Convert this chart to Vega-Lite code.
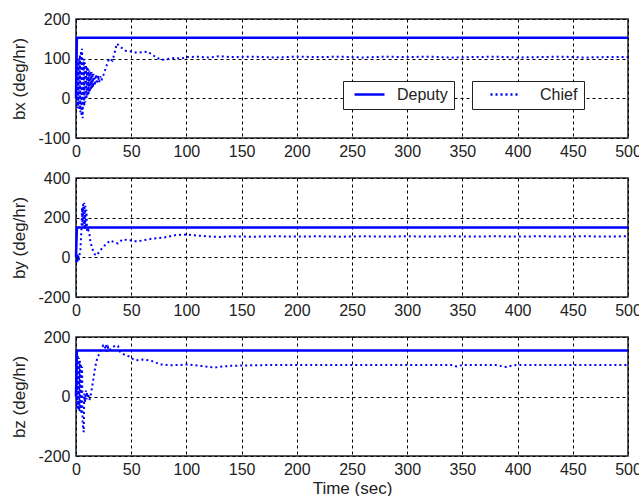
{
  "$schema": "https://vega.github.io/schema/vega-lite/v6.json",
  "padding": {"left": 10, "top": 10, "right": 0, "bottom": 0},
  "spacing": 40,
  "bounds": "flush",
  "datasets": {
    "d": [
      {"p":"bx","s":"Deputy","t":0,"v":0},{"p":"bx","s":"Deputy","t":0.8,"v":153},{"p":"bx","s":"Deputy","t":500,"v":153},
      {"p":"by","s":"Deputy","t":0,"v":0},{"p":"by","s":"Deputy","t":0.8,"v":150},{"p":"by","s":"Deputy","t":500,"v":150},
      {"p":"bz","s":"Deputy","t":0,"v":0},{"p":"bz","s":"Deputy","t":0.8,"v":155},{"p":"bz","s":"Deputy","t":500,"v":155},

      {"p":"bx","s":"Chief","t":0,"v":0},{"p":"bx","s":"Chief","t":0.5,"v":95},{"p":"bx","s":"Chief","t":1,"v":-25},{"p":"bx","s":"Chief","t":1.5,"v":90},{"p":"bx","s":"Chief","t":2,"v":-20},{"p":"bx","s":"Chief","t":2.5,"v":100},{"p":"bx","s":"Chief","t":3,"v":-30},{"p":"bx","s":"Chief","t":3.5,"v":110},{"p":"bx","s":"Chief","t":4,"v":-35},{"p":"bx","s":"Chief","t":4.5,"v":120},{"p":"bx","s":"Chief","t":5,"v":-45},{"p":"bx","s":"Chief","t":5.5,"v":125},{"p":"bx","s":"Chief","t":6,"v":-50},{"p":"bx","s":"Chief","t":7,"v":100},{"p":"bx","s":"Chief","t":7.5,"v":-20},{"p":"bx","s":"Chief","t":8,"v":90},{"p":"bx","s":"Chief","t":8.5,"v":-10},{"p":"bx","s":"Chief","t":9,"v":85},{"p":"bx","s":"Chief","t":9.5,"v":0},{"p":"bx","s":"Chief","t":10,"v":80},{"p":"bx","s":"Chief","t":10.5,"v":5},{"p":"bx","s":"Chief","t":11,"v":75},{"p":"bx","s":"Chief","t":11.5,"v":10},{"p":"bx","s":"Chief","t":12,"v":70},{"p":"bx","s":"Chief","t":12.5,"v":15},{"p":"bx","s":"Chief","t":13,"v":68},{"p":"bx","s":"Chief","t":13.5,"v":20},{"p":"bx","s":"Chief","t":14,"v":66},{"p":"bx","s":"Chief","t":14.5,"v":25},{"p":"bx","s":"Chief","t":15,"v":64},{"p":"bx","s":"Chief","t":15.5,"v":28},{"p":"bx","s":"Chief","t":16,"v":62},{"p":"bx","s":"Chief","t":17,"v":32},{"p":"bx","s":"Chief","t":18,"v":60},{"p":"bx","s":"Chief","t":19,"v":36},{"p":"bx","s":"Chief","t":20,"v":58},{"p":"bx","s":"Chief","t":21,"v":40},{"p":"bx","s":"Chief","t":22,"v":55},{"p":"bx","s":"Chief","t":23,"v":45},{"p":"bx","s":"Chief","t":25,"v":60},{"p":"bx","s":"Chief","t":28,"v":85},{"p":"bx","s":"Chief","t":30,"v":100},{"p":"bx","s":"Chief","t":33,"v":95},{"p":"bx","s":"Chief","t":35,"v":115},{"p":"bx","s":"Chief","t":37,"v":138},{"p":"bx","s":"Chief","t":40,"v":130},{"p":"bx","s":"Chief","t":45,"v":120},{"p":"bx","s":"Chief","t":50,"v":118},{"p":"bx","s":"Chief","t":55,"v":115},{"p":"bx","s":"Chief","t":60,"v":116},{"p":"bx","s":"Chief","t":65,"v":118},{"p":"bx","s":"Chief","t":70,"v":108},{"p":"bx","s":"Chief","t":75,"v":100},{"p":"bx","s":"Chief","t":80,"v":97},{"p":"bx","s":"Chief","t":85,"v":100},{"p":"bx","s":"Chief","t":90,"v":102},{"p":"bx","s":"Chief","t":95,"v":100},{"p":"bx","s":"Chief","t":100,"v":104},{"p":"bx","s":"Chief","t":110,"v":105},{"p":"bx","s":"Chief","t":120,"v":103},{"p":"bx","s":"Chief","t":130,"v":106},{"p":"bx","s":"Chief","t":140,"v":104},{"p":"bx","s":"Chief","t":160,"v":105},{"p":"bx","s":"Chief","t":180,"v":103},{"p":"bx","s":"Chief","t":200,"v":105},{"p":"bx","s":"Chief","t":220,"v":104},{"p":"bx","s":"Chief","t":240,"v":105},{"p":"bx","s":"Chief","t":260,"v":103},{"p":"bx","s":"Chief","t":280,"v":105},{"p":"bx","s":"Chief","t":300,"v":104},{"p":"bx","s":"Chief","t":320,"v":105},{"p":"bx","s":"Chief","t":340,"v":103},{"p":"bx","s":"Chief","t":360,"v":104},{"p":"bx","s":"Chief","t":380,"v":105},{"p":"bx","s":"Chief","t":400,"v":103},{"p":"bx","s":"Chief","t":420,"v":104},{"p":"bx","s":"Chief","t":440,"v":105},{"p":"bx","s":"Chief","t":460,"v":103},{"p":"bx","s":"Chief","t":480,"v":104},{"p":"bx","s":"Chief","t":500,"v":104},

      {"p":"by","s":"Chief","t":0,"v":15},{"p":"by","s":"Chief","t":0.5,"v":-30},{"p":"by","s":"Chief","t":1,"v":20},{"p":"by","s":"Chief","t":1.5,"v":-25},{"p":"by","s":"Chief","t":2,"v":10},{"p":"by","s":"Chief","t":2.5,"v":-15},{"p":"by","s":"Chief","t":3,"v":5},{"p":"by","s":"Chief","t":4,"v":40},{"p":"by","s":"Chief","t":5,"v":150},{"p":"by","s":"Chief","t":5.5,"v":250},{"p":"by","s":"Chief","t":6,"v":160},{"p":"by","s":"Chief","t":6.5,"v":270},{"p":"by","s":"Chief","t":7,"v":150},{"p":"by","s":"Chief","t":7.5,"v":275},{"p":"by","s":"Chief","t":8,"v":140},{"p":"by","s":"Chief","t":8.5,"v":260},{"p":"by","s":"Chief","t":9,"v":150},{"p":"by","s":"Chief","t":9.5,"v":240},{"p":"by","s":"Chief","t":10,"v":130},{"p":"by","s":"Chief","t":11,"v":140},{"p":"by","s":"Chief","t":12,"v":125},{"p":"by","s":"Chief","t":13,"v":80},{"p":"by","s":"Chief","t":15,"v":40},{"p":"by","s":"Chief","t":17,"v":15},{"p":"by","s":"Chief","t":19,"v":10},{"p":"by","s":"Chief","t":20,"v":20},{"p":"by","s":"Chief","t":22,"v":35},{"p":"by","s":"Chief","t":25,"v":55},{"p":"by","s":"Chief","t":28,"v":70},{"p":"by","s":"Chief","t":31,"v":85},{"p":"by","s":"Chief","t":35,"v":75},{"p":"by","s":"Chief","t":38,"v":70},{"p":"by","s":"Chief","t":42,"v":90},{"p":"by","s":"Chief","t":46,"v":88},{"p":"by","s":"Chief","t":50,"v":85},{"p":"by","s":"Chief","t":55,"v":80},{"p":"by","s":"Chief","t":60,"v":85},{"p":"by","s":"Chief","t":65,"v":90},{"p":"by","s":"Chief","t":70,"v":95},{"p":"by","s":"Chief","t":80,"v":100},{"p":"by","s":"Chief","t":90,"v":112},{"p":"by","s":"Chief","t":100,"v":115},{"p":"by","s":"Chief","t":110,"v":110},{"p":"by","s":"Chief","t":120,"v":105},{"p":"by","s":"Chief","t":130,"v":103},{"p":"by","s":"Chief","t":140,"v":106},{"p":"by","s":"Chief","t":160,"v":104},{"p":"by","s":"Chief","t":180,"v":106},{"p":"by","s":"Chief","t":200,"v":105},{"p":"by","s":"Chief","t":220,"v":106},{"p":"by","s":"Chief","t":240,"v":104},{"p":"by","s":"Chief","t":260,"v":106},{"p":"by","s":"Chief","t":280,"v":105},{"p":"by","s":"Chief","t":300,"v":106},{"p":"by","s":"Chief","t":320,"v":105},{"p":"by","s":"Chief","t":340,"v":106},{"p":"by","s":"Chief","t":360,"v":105},{"p":"by","s":"Chief","t":380,"v":106},{"p":"by","s":"Chief","t":400,"v":105},{"p":"by","s":"Chief","t":420,"v":106},{"p":"by","s":"Chief","t":440,"v":105},{"p":"by","s":"Chief","t":460,"v":106},{"p":"by","s":"Chief","t":480,"v":105},{"p":"by","s":"Chief","t":500,"v":106},

      {"p":"bz","s":"Chief","t":0,"v":0},{"p":"bz","s":"Chief","t":0.5,"v":140},{"p":"bz","s":"Chief","t":1,"v":-40},{"p":"bz","s":"Chief","t":1.5,"v":140},{"p":"bz","s":"Chief","t":2,"v":-45},{"p":"bz","s":"Chief","t":2.5,"v":130},{"p":"bz","s":"Chief","t":3,"v":-50},{"p":"bz","s":"Chief","t":3.5,"v":120},{"p":"bz","s":"Chief","t":4,"v":-50},{"p":"bz","s":"Chief","t":4.5,"v":110},{"p":"bz","s":"Chief","t":5,"v":-60},{"p":"bz","s":"Chief","t":5.5,"v":100},{"p":"bz","s":"Chief","t":6,"v":-90},{"p":"bz","s":"Chief","t":7,"v":-120},{"p":"bz","s":"Chief","t":7.5,"v":10},{"p":"bz","s":"Chief","t":8,"v":-20},{"p":"bz","s":"Chief","t":9,"v":20},{"p":"bz","s":"Chief","t":9.5,"v":-10},{"p":"bz","s":"Chief","t":10,"v":15},{"p":"bz","s":"Chief","t":10.5,"v":-5},{"p":"bz","s":"Chief","t":11,"v":10},{"p":"bz","s":"Chief","t":12,"v":-12},{"p":"bz","s":"Chief","t":13,"v":-5},{"p":"bz","s":"Chief","t":14,"v":20},{"p":"bz","s":"Chief","t":15.5,"v":52},{"p":"bz","s":"Chief","t":17,"v":90},{"p":"bz","s":"Chief","t":18.5,"v":119},{"p":"bz","s":"Chief","t":20,"v":135},{"p":"bz","s":"Chief","t":21.5,"v":147},{"p":"bz","s":"Chief","t":23,"v":160},{"p":"bz","s":"Chief","t":24.5,"v":170},{"p":"bz","s":"Chief","t":26,"v":160},{"p":"bz","s":"Chief","t":27,"v":175},{"p":"bz","s":"Chief","t":28,"v":150},{"p":"bz","s":"Chief","t":29,"v":165},{"p":"bz","s":"Chief","t":30,"v":155},{"p":"bz","s":"Chief","t":33,"v":165},{"p":"bz","s":"Chief","t":36,"v":172},{"p":"bz","s":"Chief","t":38,"v":170},{"p":"bz","s":"Chief","t":40,"v":150},{"p":"bz","s":"Chief","t":44,"v":140},{"p":"bz","s":"Chief","t":48,"v":135},{"p":"bz","s":"Chief","t":52,"v":125},{"p":"bz","s":"Chief","t":56,"v":122},{"p":"bz","s":"Chief","t":60,"v":124},{"p":"bz","s":"Chief","t":65,"v":122},{"p":"bz","s":"Chief","t":70,"v":118},{"p":"bz","s":"Chief","t":76,"v":108},{"p":"bz","s":"Chief","t":85,"v":105},{"p":"bz","s":"Chief","t":95,"v":106},{"p":"bz","s":"Chief","t":100,"v":108},{"p":"bz","s":"Chief","t":110,"v":104},{"p":"bz","s":"Chief","t":120,"v":100},{"p":"bz","s":"Chief","t":125,"v":97},{"p":"bz","s":"Chief","t":130,"v":100},{"p":"bz","s":"Chief","t":140,"v":103},{"p":"bz","s":"Chief","t":160,"v":105},{"p":"bz","s":"Chief","t":180,"v":106},{"p":"bz","s":"Chief","t":200,"v":106},{"p":"bz","s":"Chief","t":220,"v":106},{"p":"bz","s":"Chief","t":240,"v":106},{"p":"bz","s":"Chief","t":260,"v":106},{"p":"bz","s":"Chief","t":280,"v":106},{"p":"bz","s":"Chief","t":300,"v":106},{"p":"bz","s":"Chief","t":320,"v":106},{"p":"bz","s":"Chief","t":340,"v":106},{"p":"bz","s":"Chief","t":345,"v":101},{"p":"bz","s":"Chief","t":350,"v":106},{"p":"bz","s":"Chief","t":380,"v":106},{"p":"bz","s":"Chief","t":390,"v":99},{"p":"bz","s":"Chief","t":395,"v":104},{"p":"bz","s":"Chief","t":400,"v":106},{"p":"bz","s":"Chief","t":420,"v":106},{"p":"bz","s":"Chief","t":450,"v":106},{"p":"bz","s":"Chief","t":480,"v":106},{"p":"bz","s":"Chief","t":500,"v":106}
    ]
  },
  "data": {"name": "d"},
  "vconcat": [
    {
      "width": 552, "height": 119,
      "transform": [{"filter": "datum.p === 'bx'"}],
      "encoding": {
        "x": {"field": "t", "type": "quantitative", "scale": {"domain": [0, 500], "nice": false}, "axis": {"values": [0,50,100,150,200,250,300,350,400,450,500], "title": null}},
        "y": {"field": "v", "type": "quantitative", "scale": {"domain": [-100, 200], "nice": false}, "axis": {"values": [-100,0,100,200], "title": "bx (deg/hr)"}}
      },
      "layer": [
        {
          "transform": [{"filter": "datum.s === 'Deputy'"}],
          "mark": {"type": "line", "strokeWidth": 2.5, "color": "#0000ff"},
          "encoding": {
            "color": {"field": "s", "type": "nominal", "scale": {"domain": ["Deputy"], "range": ["#0000ff"]}, "legend": {"title": null, "orient": "none", "legendX": 267, "legendY": 62, "symbolOffset": 4, "labelOffset": 11}}
          }
        },
        {
          "transform": [{"filter": "datum.s === 'Chief'"}],
          "mark": {"type": "line", "strokeWidth": 2, "color": "#0000ff"},
          "encoding": {
            "strokeDash": {"field": "s", "type": "nominal", "scale": {"domain": ["Chief"], "range": [[2, 3]]}, "legend": {"title": null, "orient": "none", "legendX": 396, "legendY": 62, "symbolOffset": 11, "labelOffset": 18}}
          }
        }
      ]
    },
    {
      "width": 552, "height": 119,
      "transform": [{"filter": "datum.p === 'by'"}],
      "encoding": {
        "x": {"field": "t", "type": "quantitative", "scale": {"domain": [0, 500], "nice": false}, "axis": {"values": [0,50,100,150,200,250,300,350,400,450,500], "title": null}},
        "y": {"field": "v", "type": "quantitative", "scale": {"domain": [-200, 400], "nice": false}, "axis": {"values": [-200,0,200,400], "title": "by (deg/hr)"}}
      },
      "layer": [
        {
          "transform": [{"filter": "datum.s === 'Deputy'"}],
          "mark": {"type": "line", "strokeWidth": 2.5, "color": "#0000ff"}
        },
        {
          "transform": [{"filter": "datum.s === 'Chief'"}],
          "mark": {"type": "line", "strokeWidth": 2, "color": "#0000ff", "strokeDash": [2, 3]}
        }
      ]
    },
    {
      "width": 552, "height": 119,
      "transform": [{"filter": "datum.p === 'bz'"}],
      "encoding": {
        "x": {"field": "t", "type": "quantitative", "scale": {"domain": [0, 500], "nice": false}, "axis": {"values": [0,50,100,150,200,250,300,350,400,450,500], "title": "Time (sec)"}},
        "y": {"field": "v", "type": "quantitative", "scale": {"domain": [-200, 200], "nice": false}, "axis": {"values": [-200,0,200], "title": "bz (deg/hr)"}}
      },
      "layer": [
        {
          "transform": [{"filter": "datum.s === 'Deputy'"}],
          "mark": {"type": "line", "strokeWidth": 2.5, "color": "#0000ff"}
        },
        {
          "transform": [{"filter": "datum.s === 'Chief'"}],
          "mark": {"type": "line", "strokeWidth": 2, "color": "#0000ff", "strokeDash": [2, 3]}
        }
      ]
    }
  ],
  "resolve": {"scale": {"x": "independent", "y": "independent"}},
  "config": {
    "font": "Liberation Sans",
    "background": "white",
    "view": {"stroke": "#222", "strokeWidth": 1.5},
    "axis": {
      "domain": false, "ticks": false, "grid": true,
      "gridColor": "#000", "gridDash": [3, 3], "gridOpacity": 1, "gridWidth": 1,
      "labelFont": "Liberation Sans", "labelFontSize": 16, "labelColor": "#222",
      "labelFlush": false, "labelOverlap": false,
      "labelExpr": "replace(datum.label, '\u2212', '-')",
      "titleFont": "Liberation Sans", "titleFontSize": 17, "titleFontWeight": "normal", "titleColor": "#222"
    },
    "axisY": {"labelPadding": 6, "titlePadding": 9},
    "axisX": {"labelPadding": 5, "titlePadding": 3},
    "legend": {
      "strokeColor": "#222", "fillColor": "#fff", "padding": 6, "clipHeight": 15,
      "labelFont": "Liberation Sans", "labelFontSize": 16, "labelColor": "#222",
      "symbolSize": 900, "symbolStrokeWidth": 2.5, "symbolStrokeColor": "#0000ff",
      "symbolType": "stroke"
    }
  }
}
